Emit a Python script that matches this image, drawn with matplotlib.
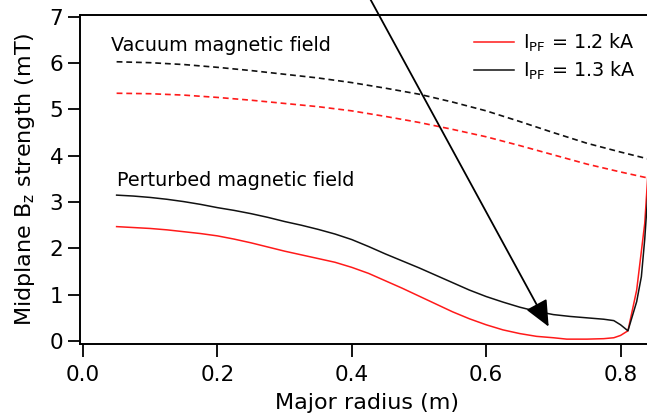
import matplotlib
matplotlib.use("Agg")
import matplotlib.pyplot as plt

# Major radius sample points (m) and midplane Bz (mT)
r_pert_12 = [0.05, 0.075, 0.10, 0.125, 0.15, 0.175, 0.20, 0.225, 0.25, 0.275,
             0.30, 0.325, 0.35, 0.375, 0.40, 0.425, 0.45, 0.475, 0.50, 0.525,
             0.55, 0.575, 0.60, 0.625, 0.65, 0.675, 0.70, 0.72, 0.75, 0.775,
             0.79, 0.80, 0.811, 0.824, 0.836, 0.844, 0.85]
b_pert_12 = [2.47, 2.45, 2.43, 2.40, 2.36, 2.32, 2.27, 2.20, 2.12, 2.03,
             1.94, 1.86, 1.78, 1.70, 1.59, 1.46, 1.30, 1.14, 0.97, 0.80,
             0.63, 0.48, 0.35, 0.24, 0.16, 0.10, 0.07, 0.04, 0.04, 0.05,
             0.07, 0.12, 0.22, 1.10, 2.54, 4.34, 5.30]

r_pert_13 = [0.05, 0.075, 0.10, 0.125, 0.15, 0.175, 0.20, 0.225, 0.25, 0.275,
             0.30, 0.325, 0.35, 0.375, 0.40, 0.425, 0.45, 0.475, 0.50, 0.525,
             0.55, 0.575, 0.60, 0.625, 0.65, 0.675, 0.70, 0.725, 0.75, 0.775,
             0.79, 0.80, 0.811, 0.824, 0.831, 0.836, 0.841, 0.846, 0.85]
b_pert_13 = [3.15, 3.13, 3.10, 3.06, 3.01, 2.95, 2.88, 2.82, 2.75, 2.67,
             2.58, 2.50, 2.41, 2.31, 2.19, 2.04, 1.88, 1.73, 1.58, 1.42,
             1.26, 1.10, 0.96, 0.84, 0.73, 0.64, 0.57, 0.53, 0.50, 0.47,
             0.44, 0.35, 0.22, 0.85, 1.39, 2.20, 3.26, 4.60, 5.30]

r_vac = [0.05, 0.10, 0.15, 0.20, 0.25, 0.30, 0.35, 0.40, 0.45, 0.50, 0.55,
         0.60, 0.65, 0.70, 0.75, 0.80, 0.85]
b_vac_12 = [5.35, 5.34, 5.31, 5.26, 5.20, 5.13, 5.06, 4.97, 4.85, 4.72, 4.57,
            4.41, 4.22, 4.02, 3.82, 3.65, 3.49]
b_vac_13 = [6.03, 6.01, 5.97, 5.91, 5.84, 5.76, 5.68, 5.58, 5.46, 5.33, 5.16,
            4.97, 4.74, 4.50, 4.27, 4.08, 3.90]

labels = ["I$_{\\mathrm{PF}}$ = 1.2 kA", "I$_{\\mathrm{PF}}$ = 1.3 kA"]
x_ticks = [0.0, 0.2, 0.4, 0.6, 0.8]
y_ticks = [0, 1, 2, 3, 4, 5, 6, 7]

RED = "#ff1a1a"
BLACK = "#111111"
FS = 13.75        # annotations and legend
FS_TICK = 15.5
FS_LABEL = 16

plt.rcParams["font.family"] = ["DejaVu Sans"]
plt.rcParams["mathtext.default"] = "regular"

fig = plt.figure(figsize=(6.47, 4.18), dpi=100)
ax = fig.add_axes([80 / 647, 1 - 344 / 418, 1 - 80 / 647 + 0.01, (344 - 15) / 418])

ax.plot(r_pert_12, b_pert_12, color=RED, lw=1.1, label=labels[0])
ax.plot(r_pert_13, b_pert_13, color=BLACK, lw=1.1, label=labels[1])
ax.plot(r_vac, b_vac_12, color=RED, lw=1.2, dashes=(3.5, 2.3))
ax.plot(r_vac, b_vac_13, color=BLACK, lw=1.2, dashes=(3.5, 2.3))

ax.set_xlim(-0.0045, 0.849)
ax.set_ylim(-0.065, 7.04)
ax.set_xticks(x_ticks)
ax.set_xticklabels([f"{v:.1f}" for v in x_ticks])
ax.set_yticks(y_ticks)

ax.spines["right"].set_visible(False)
for s in ("left", "bottom", "top"):
    ax.spines[s].set_linewidth(1.4)
ax.tick_params(axis="both", direction="out", length=9, width=1.3, labelsize=FS_TICK)
ax.tick_params(axis="x", pad=6)
ax.tick_params(axis="y", pad=3)

ax.set_xlabel("Major radius (m)", fontsize=FS_LABEL, labelpad=6)
ax.set_ylabel("Midplane B$_z$ strength (mT)", fontsize=FS_LABEL, labelpad=9)

ax.text(0.041, 6.39, "Vacuum magnetic field", fontsize=FS, va="center", ha="left")
ax.text(0.051, 3.46, "Perturbed magnetic field", fontsize=FS, va="center", ha="left")

ax.annotate("", xy=(0.693, 0.31), xytext=(0.428, 7.37),
            xycoords="data", textcoords="data", annotation_clip=False,
            arrowprops=dict(arrowstyle="-|>,head_length=0.8,head_width=0.36",
                            mutation_scale=20, lw=1.3, color="black",
                            shrinkA=0, shrinkB=0))

leg = ax.legend(loc="upper right", frameon=False, fontsize=FS,
                handlelength=2.1, handletextpad=0.5, labelspacing=0.3,
                bbox_to_anchor=(0.99, 0.985), borderaxespad=0.2)

fig.savefig("out.png", dpi=100)
